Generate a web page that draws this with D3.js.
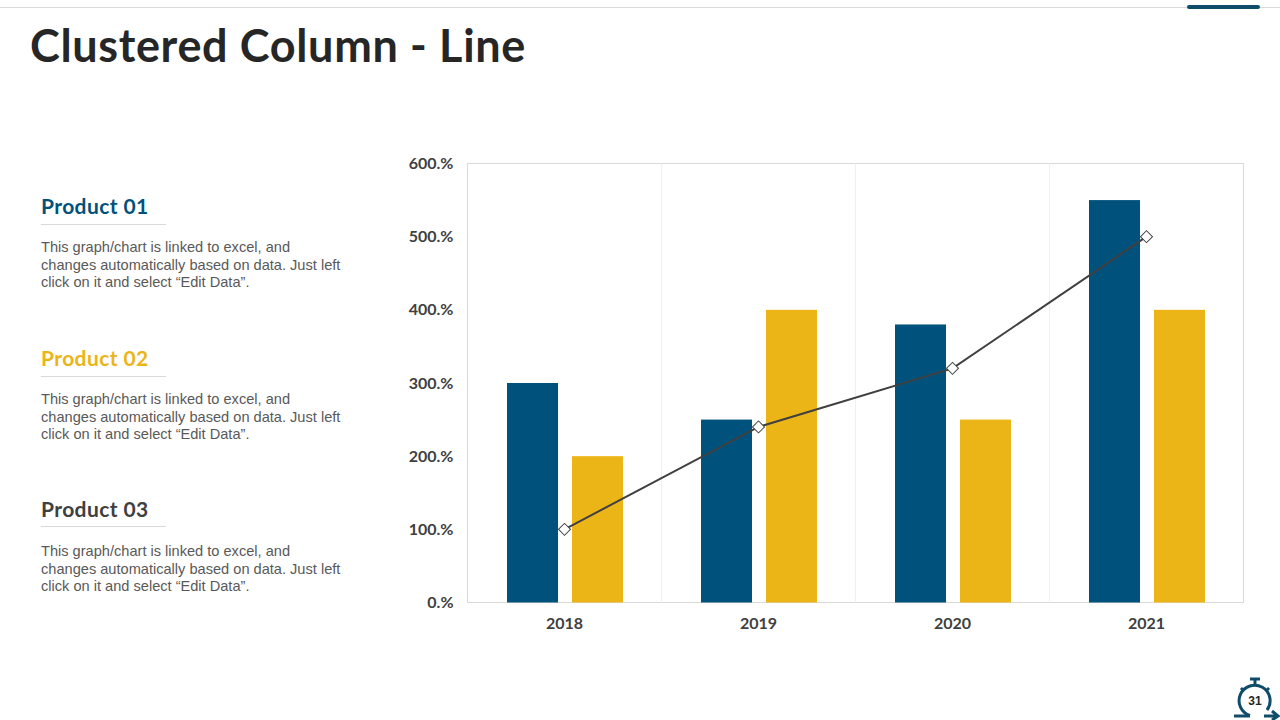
<!DOCTYPE html>
<html><head><meta charset="utf-8">
<script src="https://cdnjs.cloudflare.com/ajax/libs/d3/7.8.5/d3.min.js"></script>
<style>
html,body{margin:0;padding:0;background:#fff;overflow:hidden}
svg{display:block}
.h{font-family:Lato,"Open Sans",sans-serif;font-weight:700}
.b{font-family:"Liberation Sans",Arial,sans-serif;font-size:14.6px;fill:#595959}
.tick text{font-family:Lato,sans-serif;font-weight:700;font-size:16px;fill:#404040}
</style></head><body>
<svg id="c" width="1280" height="720"></svg>
<script>
const categories=["2018","2019","2020","2021"];
const product01=[300,250,380,550];
const product02=[200,400,250,400];
const product03=[100,240,320,500];
const yTicks=[0,100,200,300,400,500,600];
const blocks=["Product 01","Product 02","Product 03"];
const blockColors=["#00527c","#ecb517","#404040"];
const bodyLines=["This graph/chart is linked to excel, and","changes automatically based on data. Just left","click on it and select “Edit Data”."];

const svg=d3.select("#c");
const L=467.5,R=1243.5,T=163.5,B=602.5;
// header
svg.append("line").attr("x1",0).attr("x2",1280).attr("y1",7.5).attr("y2",7.5).attr("stroke","#d9d9d9");
svg.append("rect").attr("x",1187).attr("y",5).attr("width",73).attr("height",4).attr("rx",2).attr("fill","#0f4c6c");
svg.append("text").attr("class","h").attr("x",30).attr("y",62).attr("font-size",45).attr("letter-spacing",0.65).attr("fill","#262626").text("Clustered Column - Line");
// side blocks
[0,1,2].forEach(i=>{
  const oy=[0,152,303][i];
  const by=[0,152,304][i];
  svg.append("text").attr("class","h").attr("x",41).attr("y",214+oy).attr("font-size",21).attr("letter-spacing",0.4).attr("fill",blockColors[i]).text(blocks[i]);
  svg.append("line").attr("x1",41).attr("x2",166).attr("y1",224.5+[0,152,302][i]).attr("y2",224.5+[0,152,302][i]).attr("stroke","#d9d9d9");
  bodyLines.forEach((t,j)=>svg.append("text").attr("class","b").attr("x",41).attr("y",[252,270,287][j]+by).text(t));
});
// chart
const x=d3.scaleBand().domain(categories).range([L,R]);
const inner=d3.scaleBand().domain([0,1]).range([0.5,x.bandwidth()+0.5]).paddingInner(0.215).paddingOuter(0.6);
const y=d3.scaleLinear().domain([0,600]).range([B,T]);
svg.append("rect").attr("x",L).attr("y",T).attr("width",R-L).attr("height",B-T).attr("fill","none").attr("stroke","#d9d9d9");
svg.append("g").selectAll("line").data(categories.slice(1)).join("line")
  .attr("x1",d=>Math.floor(x(d))+.5).attr("x2",d=>Math.floor(x(d))+.5).attr("y1",T).attr("y2",B).attr("stroke","#f0f0f0");
[product01,product02].forEach((vals,s)=>{
  svg.append("g").selectAll("rect").data(vals).join("rect")
    .attr("x",(d,i)=>x(categories[i])+inner(s)).attr("width",inner.bandwidth())
    .attr("y",d=>y(d)).attr("height",d=>B-y(d)).attr("fill",["#00527c","#ecb517"][s]);
});
const cx=i=>x(categories[i])+x.bandwidth()/2;
svg.append("path").datum(product03).attr("fill","none").attr("stroke","#404040").attr("stroke-width",2)
  .attr("d",d3.line().x((d,i)=>cx(i)).y(d=>y(d)));
svg.append("g").selectAll("path").data(product03).join("path")
  .attr("d",d3.symbol(d3.symbolSquare,72))
  .attr("transform",(d,i)=>`translate(${cx(i)},${y(d)}) rotate(45)`)
  .attr("fill","#fff").attr("stroke","#404040").attr("stroke-width",1);
const ax=svg.append("g").attr("transform",`translate(0,${B})`).call(d3.axisBottom(x).tickSize(0).tickPadding(15));
ax.select(".domain").remove();
const ay=svg.append("g").attr("transform",`translate(${L},0)`).call(d3.axisLeft(y).tickValues(yTicks).tickSize(0).tickPadding(14).tickFormat(d=>d+".%"));
ay.select(".domain").remove();
// badge
const g=svg.append("g").attr("fill","none").attr("stroke","#0f4c6c").attr("stroke-width",3);
g.append("path").attr("d","M1234 716H1250");
g.append("path").attr("d","M1250 715.5A15.5 15.5 0 1 1 1267 710");
g.append("path").attr("d","M1264 716H1278M1272 711L1278 716L1272 720");
g.append("path").attr("d","M1255 685V680M1250 679H1260");
g.append("path").attr("d","M1241 690L1243 688M1269 690L1267 688");
svg.append("text").attr("x",1255).attr("y",705).attr("text-anchor","middle").attr("font-family","Liberation Sans").attr("font-weight",700).attr("font-size",12).attr("fill","#262626").text("31");
</script></body></html>
